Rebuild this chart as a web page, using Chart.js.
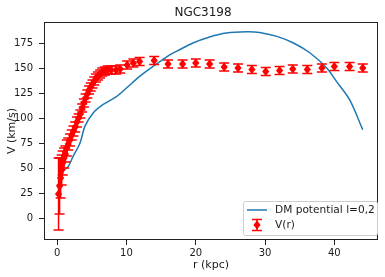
<!DOCTYPE html>
<html>
<head>
<meta charset="utf-8">
<script src="https://cdn.jsdelivr.net/npm/chart.js@4"></script>
<style>
  html, body { margin: 0; padding: 0; background: #fff; }
  #rc { display: block; }
</style>
</head>
<body>
<canvas id="rc" width="385" height="277"></canvas>
<script>
// observed rotation curve, r in kpc, V and error in km/s
const obsR = [0.2, 0.35, 0.5, 0.65, 0.8, 1.0, 1.2, 1.4, 1.6, 1.85, 2.1, 2.35, 2.6, 2.85, 3.1, 3.35, 3.6, 3.85, 4.1, 4.35,
  4.6, 4.85, 5.1, 5.35, 5.6, 5.9, 6.2, 6.5, 6.9, 7.3, 7.8, 8.5, 9.1, 10.1, 11.0, 11.9, 14.0, 16.0, 18.1, 20.0,
  22.0, 24.1, 26.1, 28.1, 30.1, 32.1, 34.0, 36.1, 38.2, 40.0, 42.2, 44.1];
const obsV = [24, 32, 40, 48, 55, 60, 64, 70, 74, 78, 83, 87, 91, 96, 100, 104, 110, 115, 120, 124,
  128, 131, 134, 137, 140, 142, 144, 146, 147, 148, 148, 148, 149, 153, 155, 156.5, 157.5, 154, 154, 155,
  154, 151, 150, 148.5, 146.5, 147.5, 149, 148.5, 150, 151.5, 151.5, 150];
const obsErr = [36, 28, 20, 15, 12, 10, 8, 8, 6, 6, 5, 5, 5, 5, 4, 4, 4, 4, 4, 4,
  4, 4, 4, 4, 4, 4, 4, 4, 4, 4, 4, 4, 4, 4, 4, 4, 4, 4, 4, 4,
  4, 4, 4, 4, 4, 4, 4, 4, 4, 4, 4, 4];

// dark matter model curve
const modelR = [0.14, 0.87, 1.6, 2.3, 3.3, 4.0, 5.2, 6.6, 8.6, 10.0, 11.9, 13.85, 16.3, 17.2, 19.6, 22.0,
  24.4, 27.3, 29.2, 31.7, 34.1, 36.5, 38.9, 40.3, 42.2, 44.1];
const modelV = [31.6, 46.6, 51.6, 61.6, 75, 91.6, 105, 113.3, 121.6, 130, 141.6, 151.6, 163.3, 166.6, 175, 181,
  185, 186.3, 185.6, 181.6, 175, 165, 150, 136.6, 118.3, 88.3];

const xTicks = [0, 10, 20, 30, 40];
const yTicks = [0, 25, 50, 75, 100, 125, 150, 175];

const chartTitle = "NGC3198";
const xTitle = "r (kpc)";
const yTitle = "V (km/s)";
const modelLabel = "DM potential l=0,2";
const obsLabel = "V(r)";

const FONT = "'DejaVu Sans', sans-serif";
const RED = "#ff0000";
const BLUE = "#1f77b4";
const INK = "#1a1a1a";

function drawErrBar(ctx, x, yTop, yBot, cap) {
  ctx.beginPath();
  ctx.moveTo(x, yTop); ctx.lineTo(x, yBot);
  ctx.moveTo(x - cap, yTop); ctx.lineTo(x + cap, yTop);
  ctx.moveTo(x - cap, yBot); ctx.lineTo(x + cap, yBot);
  ctx.stroke();
}

function drawDiamond(ctx, x, y, w, h) {
  ctx.beginPath();
  ctx.moveTo(x, y - h); ctx.lineTo(x + w, y); ctx.lineTo(x, y + h); ctx.lineTo(x - w, y);
  ctx.closePath();
  ctx.fill();
}

const errorBars = {
  id: "errorBars",
  afterDatasetsDraw(chart) {
    const ctx = chart.ctx;
    const xs = chart.scales.x, ys = chart.scales.y;
    ctx.save();
    ctx.strokeStyle = RED;
    ctx.fillStyle = RED;
    ctx.lineWidth = 1.5;
    for (let i = 0; i < obsR.length; i++) {
      const px = xs.getPixelForValue(obsR[i]);
      drawErrBar(ctx, px, ys.getPixelForValue(obsV[i] + obsErr[i]), ys.getPixelForValue(obsV[i] - obsErr[i]), 5);
    }
    for (let i = 0; i < obsR.length; i++) {
      drawDiamond(ctx, xs.getPixelForValue(obsR[i]), ys.getPixelForValue(obsV[i]), 3.6, 4.6);
    }
    ctx.restore();
  }
};

const decorations = {
  id: "decorations",
  afterDraw(chart) {
    const ctx = chart.ctx;
    const a = chart.chartArea;
    ctx.save();
    // frame
    ctx.strokeStyle = "#222";
    ctx.lineWidth = 1;
    ctx.strokeRect(a.left + 0.5, a.top + 0.5, a.right - a.left - 1, a.bottom - a.top - 1);

    ctx.fillStyle = INK;
    ctx.textAlign = "center";
    ctx.textBaseline = "middle";
    ctx.font = "12px " + FONT;
    ctx.fillText(chartTitle, 203, 12.5);
    ctx.font = "11px " + FONT;
    ctx.fillText(xTitle, (a.left + a.right) / 2, 265);
    ctx.save();
    ctx.translate(12, (a.top + a.bottom) / 2);
    ctx.rotate(-Math.PI / 2);
    ctx.fillText(yTitle, 0, 0);
    ctx.restore();

    // legend box
    const lx = 243.5, ly = 201.5, lw = 134, lh = 34;
    ctx.fillStyle = "rgba(255,255,255,0.8)";
    ctx.strokeStyle = "#cccccc";
    ctx.lineWidth = 1;
    ctx.beginPath();
    ctx.roundRect(lx, ly, lw, lh, 2);
    ctx.fill();
    ctx.stroke();

    ctx.strokeStyle = BLUE;
    ctx.lineWidth = 1.5;
    ctx.beginPath();
    ctx.moveTo(247, 210); ctx.lineTo(267, 210);
    ctx.stroke();

    ctx.strokeStyle = RED;
    ctx.fillStyle = RED;
    drawErrBar(ctx, 257, 219.5, 230.5, 5);
    drawDiamond(ctx, 257, 225, 3.6, 4.6);

    ctx.fillStyle = INK;
    ctx.textAlign = "left";
    ctx.font = "10.6px " + FONT;
    ctx.fillText(modelLabel, 275, 210.5);
    ctx.fillText(obsLabel, 275, 225.5);
    ctx.restore();
  }
};

const tickFont = { family: FONT, size: 10 };

new Chart(document.getElementById("rc"), {
  type: "line",
  data: {
    datasets: [{
      label: modelLabel,
      data: modelR.map((r, i) => ({ x: r, y: modelV[i] })),
      borderColor: BLUE,
      borderWidth: 1.5,
      pointRadius: 0,
      fill: false,
      tension: 0.3
    }]
  },
  options: {
    responsive: false,
    animation: false,
    layout: { padding: { top: 22, right: 7, left: 0, bottom: 0 } },
    plugins: { legend: { display: false }, title: { display: false }, tooltip: { enabled: false } },
    scales: {
      x: {
        type: "linear",
        min: -1.9,
        max: 46.3,
        afterBuildTicks: s => { s.ticks = xTicks.map(v => ({ value: v })); },
        afterFit: s => { s.height = 37; },
        grid: { display: true, drawOnChartArea: false, drawTicks: true, tickLength: 5, color: "#222" },
        border: { display: false },
        ticks: { font: tickFont, color: INK, padding: 2, maxRotation: 0 }
      },
      y: {
        type: "linear",
        min: -22,
        max: 196,
        afterBuildTicks: s => { s.ticks = yTicks.map(v => ({ value: v })); },
        afterFit: s => { s.width = 44; },
        grid: { display: true, drawOnChartArea: false, drawTicks: true, tickLength: 5, color: "#222" },
        border: { display: false },
        ticks: { font: tickFont, color: INK, padding: 6 }
      }
    }
  },
  plugins: [errorBars, decorations]
});
</script>
</body>
</html>
